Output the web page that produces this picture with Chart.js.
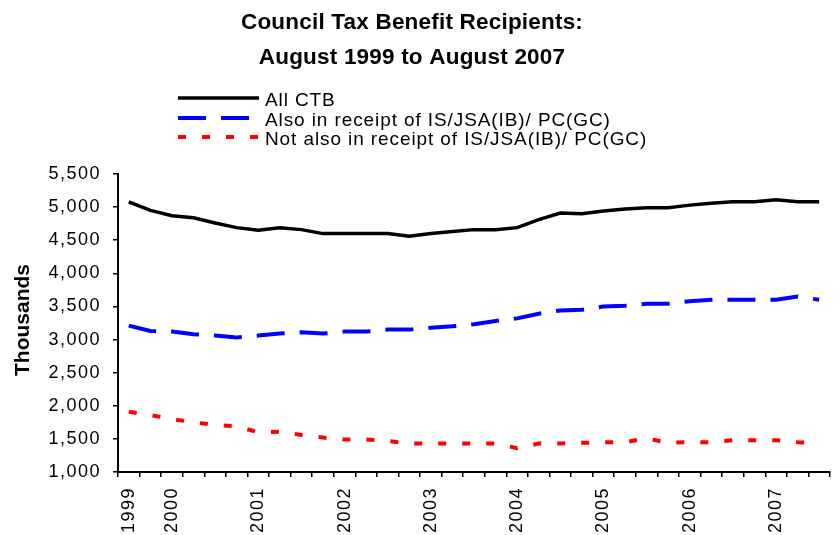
<!DOCTYPE html>
<html>
<head>
<meta charset="utf-8">
<script src="https://cdn.jsdelivr.net/npm/chart.js@4"></script>
<style>
  body { margin: 0; background: #fff; }
  #wrap { width: 840px; height: 535px; }
</style>
</head>
<body>
<div id="wrap"><canvas id="ctbChart" width="840" height="535"></canvas></div>
<script>
  // Quarterly, August 1999 to August 2007 (thousands)
  const periods = ['1999', '', '2000', '', '', '', '2001', '', '', '', '2002', '', '', '', '2003', '', '',
    '', '2004', '', '', '', '2005', '', '', '', '2006', '', '', '', '2007', '', ''];

  const allCtb = [5080, 4950, 4870, 4840, 4760, 4690, 4650, 4690, 4660, 4600, 4600, 4600, 4600, 4560, 4600, 4630,
    4660, 4660, 4690, 4810, 4910, 4900, 4940, 4970, 4990, 4990, 5030, 5060, 5080, 5080, 5110, 5080, 5080];

  const alsoIs = [3210, 3130, 3120, 3080, 3060, 3030, 3060, 3090, 3110, 3090, 3120, 3120, 3150, 3150, 3180, 3200,
    3230, 3280, 3320, 3390, 3440, 3450, 3500, 3510, 3540, 3540, 3580, 3600, 3600, 3600, 3600, 3650, 3600];

  const notAlsoIs = [1910, 1860, 1800, 1750, 1710, 1690, 1600, 1610, 1560, 1520, 1490, 1490, 1470, 1430, 1430, 1430,
    1430, 1430, 1360, 1430, 1430, 1440, 1450, 1450, 1510, 1440, 1450, 1450, 1480, 1480, 1480, 1450, 1440];

  const seriesNames = ['All CTB', 'Also in receipt of IS/JSA(IB)/ PC(GC)', 'Not also in receipt of IS/JSA(IB)/ PC(GC)'];
  const titleLines = ['Council Tax Benefit Recipients:', 'August 1999 to August 2007'];

  const FONT = '"Liberation Sans", Arial, sans-serif';

  // title, legend and y axis title drawn by hand
  const extras = {
    id: 'extras',
    beforeDraw(chart) {
      chart.ctx.letterSpacing = '1.5px';
    },
    afterDraw(chart) {
      const ctx = chart.ctx;
      ctx.save();
      ctx.fillStyle = '#000';

      ctx.letterSpacing = '0.2px';
      ctx.font = 'bold 22.5px ' + FONT;
      ctx.textAlign = 'center';
      ctx.textBaseline = 'alphabetic';
      ctx.fillText(titleLines[0], 412, 29);
      ctx.fillText(titleLines[1], 412, 64);

      // legend
      const ds = chart.data.datasets;
      const rows = [98, 118, 137];
      ctx.textAlign = 'left';
      ctx.font = '19px ' + FONT;
      ctx.letterSpacing = '0.9px';
      ds.forEach((d, i) => {
        ctx.save();
        ctx.strokeStyle = d.borderColor;
        ctx.lineWidth = d.borderWidth;
        ctx.setLineDash(d.borderDash || []);
        ctx.beginPath();
        ctx.moveTo(178, rows[i]);
        ctx.lineTo(259, rows[i]);
        ctx.stroke();
        ctx.restore();
        ctx.fillText(d.label, 265, rows[i] + 8);
      });

      // y axis title
      ctx.letterSpacing = '0px';
      ctx.font = 'bold 21px ' + FONT;
      ctx.translate(23, 320);
      ctx.rotate(-Math.PI / 2);
      ctx.textAlign = 'center';
      ctx.textBaseline = 'middle';
      ctx.fillText('Thousands', 0, 0);
      ctx.restore();
    }
  };

  const ctbConfig = {
    type: 'line',
    data: {
      labels: periods,
      datasets: [
        { label: seriesNames[0], data: allCtb, borderColor: '#000000', borderWidth: 3.5 },
        { label: seriesNames[1], data: alsoIs, borderColor: '#0000ff', borderWidth: 4, borderDash: [28, 15] },
        { label: seriesNames[2], data: notAlsoIs, borderColor: '#ff0000', borderWidth: 4, borderDash: [8, 16] }
      ]
    },
    options: {
      responsive: false,
      animation: false,
      layout: { padding: { top: 174, right: 10, left: 0, bottom: 0 } },
      elements: {
        point: { radius: 0 },
        line: { tension: 0, borderCapStyle: 'butt', fill: false }
      },
      plugins: {
        legend: { display: false },
        title: { display: false },
        tooltip: { enabled: false }
      },
      scales: {
        x: {
          type: 'category',
          offset: true,
          afterFit: (s) => { s.height = 63; s.paddingLeft = 0; s.paddingRight = 0; },
          grid: { display: true, drawOnChartArea: false, offset: true, tickLength: 5, color: '#000', lineWidth: 1.5 },
          border: { color: '#000', width: 2 },
          ticks: {
            autoSkip: false, maxRotation: 90, minRotation: 90, padding: 10,
            color: '#000', font: { family: FONT, size: 18 }
          }
        },
        y: {
          min: 1000,
          max: 5500,
          afterFit: (s) => { s.width = 118; },
          grid: { display: true, drawOnChartArea: false, tickLength: 5, color: '#000', lineWidth: 1.5 },
          border: { color: '#000', width: 2 },
          ticks: {
            stepSize: 500, padding: 12, color: '#000',
            font: { family: FONT, size: 18 },
            callback: (v) => v.toLocaleString('en-GB')
          }
        }
      }
    },
    plugins: [extras]
  };

  const ctbChart = new Chart(document.getElementById('ctbChart'), ctbConfig);
</script>
</body>
</html>
